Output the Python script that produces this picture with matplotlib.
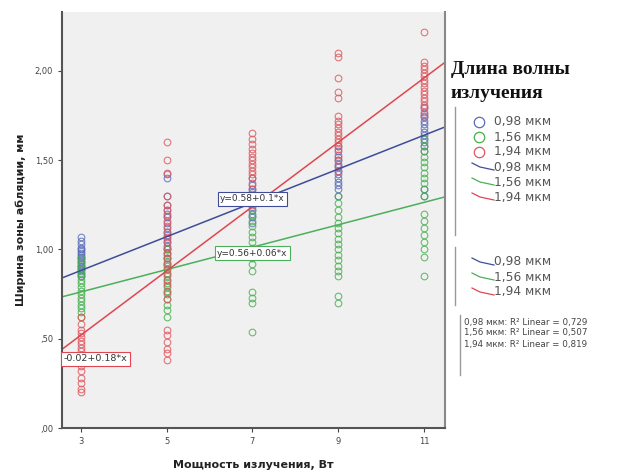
import matplotlib
matplotlib.use("Agg")
import matplotlib.pyplot as plt
from matplotlib.lines import Line2D
from matplotlib.ticker import FuncFormatter

# мощность излучения, Вт
powers = [3, 5, 7, 9, 11]

# ширина зоны абляции для каждой длины волны (по столбцам мощности)
blue_y = [
    [1.07, 1.05, 1.03, 1.01, 1.00, 0.99, 0.98, 0.97, 0.96, 0.95, 0.94, 0.93, 0.92, 0.91, 0.90, 0.89, 0.88, 0.86, 0.85],
    [1.42, 1.40, 1.30, 1.25, 1.22, 1.20, 1.18, 1.15, 1.12, 1.10, 1.08, 1.06, 1.04, 1.02, 1.00, 0.98, 0.95, 0.92],
    [1.40, 1.36, 1.34, 1.32, 1.30, 1.28, 1.26, 1.24, 1.22, 1.20, 1.18, 1.15],
    [1.58, 1.55, 1.52, 1.50, 1.48, 1.46, 1.44, 1.42, 1.40, 1.38, 1.36, 1.34, 1.30],
    [1.80, 1.76, 1.74, 1.72, 1.70, 1.68, 1.66, 1.64, 1.62, 1.60, 1.58, 1.55, 1.34, 1.30],
]
green_y = [
    [0.95, 0.93, 0.91, 0.89, 0.87, 0.85, 0.83, 0.81, 0.79, 0.77, 0.75, 0.73, 0.71, 0.69, 0.67, 0.65, 0.62],
    [1.00, 0.97, 0.95, 0.93, 0.91, 0.89, 0.87, 0.85, 0.83, 0.81, 0.79, 0.77, 0.75, 0.72, 0.69, 0.66, 0.62],
    [1.22, 1.19, 1.16, 1.13, 1.10, 1.07, 1.04, 1.01, 0.98, 0.95, 0.92, 0.88, 0.76, 0.73, 0.70, 0.54],
    [1.30, 1.26, 1.22, 1.18, 1.15, 1.12, 1.09, 1.06, 1.03, 1.00, 0.97, 0.94, 0.91, 0.88, 0.85, 0.74, 0.70],
    [1.62, 1.58, 1.55, 1.52, 1.49, 1.46, 1.43, 1.40, 1.37, 1.34, 1.30, 1.20, 1.16, 1.12, 1.08, 1.04, 1.00, 0.96, 0.85],
]
red_y = [
    [0.62, 0.58, 0.55, 0.53, 0.51, 0.49, 0.47, 0.45, 0.43, 0.41, 0.38, 0.35, 0.32, 0.28, 0.25, 0.22, 0.20],
    [1.60, 1.50, 1.43, 1.30, 1.25, 1.22, 1.19, 1.16, 1.13, 1.10, 1.07, 1.04, 1.01, 0.98, 0.95, 0.92, 0.89,
     0.86, 0.83, 0.80, 0.76, 0.72, 0.55, 0.52, 0.48, 0.44, 0.42, 0.38],
    [1.65, 1.62, 1.59, 1.56, 1.54, 1.52, 1.50, 1.48, 1.46, 1.44, 1.42, 1.40, 1.37, 1.34, 1.31, 1.28, 1.25],
    [2.10, 2.08, 1.96, 1.88, 1.85, 1.75, 1.72, 1.70, 1.68, 1.66, 1.64, 1.62, 1.60, 1.58, 1.56, 1.53, 1.50, 1.47, 1.44],
    [2.22, 2.05, 2.03, 2.01, 1.99, 1.97, 1.95, 1.93, 1.91, 1.89, 1.87, 1.85, 1.83, 1.81, 1.79, 1.77, 1.75],
]

# линии регрессии (как нарисованы на графике)
intercepts = [0.598, 0.574, -0.02]
slopes = [0.0947, 0.0627, 0.18]
eq_labels = ["y=0.58+0.1*x", "y=0.56+0.06*x", "-0.02+0.18*x"]
r2_values = ["0,729", "0,507", "0,819"]
wave_labels = ["0,98 мкм", "1,56 мкм", "1,94 мкм"]

marker_colors = ["#5a6ab8", "#45b04f", "#e0555c"]
line_colors = ["#3e4c9a", "#4caf5a", "#e04650"]

fig = plt.figure(figsize=(6.38, 4.72), dpi=100)
ax = fig.add_axes([0.0972, 0.0932, 0.6003, 0.8814])
ax.set_facecolor("#f0f0f0")

xlim = (2.56, 11.49)
ax.set_xlim(*xlim)
ax.set_ylim(0, 2.33)

for ys, mc in zip([blue_y, green_y, red_y], marker_colors):
    for p, col in zip(powers, ys):
        ax.plot([p] * len(col), col, "o", ms=4.8, mfc="none", mec=mc,
                mew=0.8, alpha=0.8, ls="none")

for a, b, lc in zip(intercepts, slopes, line_colors):
    ax.plot(xlim, [a + b * xlim[0], a + b * xlim[1]], color=lc, lw=1.1)

# подписи уравнений
ax.text(7.0, 1.283, eq_labels[0], ha="center", va="center", fontsize=6.5, color="#333",
        bbox=dict(boxstyle="square,pad=0.25", fc="white", ec=line_colors[0], lw=0.8))
ax.text(7.0, 0.98, eq_labels[1], ha="center", va="center", fontsize=6.5, color="#333",
        bbox=dict(boxstyle="square,pad=0.25", fc="white", ec=line_colors[1], lw=0.8))
ax.text(2.6, 0.387, eq_labels[2], ha="left", va="center", fontsize=6.8, color="#333",
        bbox=dict(boxstyle="square,pad=0.25", fc="white", ec=line_colors[2], lw=0.8))

ax.set_xticks(powers)
ax.set_yticks([0, 0.5, 1.0, 1.5, 2.0])
ax.yaxis.set_major_formatter(FuncFormatter(
    lambda v, pos: ("%.2f" % v).replace(".", ",").lstrip("0") if v < 1 else ("%.2f" % v).replace(".", ",")))
ax.tick_params(labelsize=6, colors="#444", length=3, width=0.8)

for s in ["left", "bottom"]:
    ax.spines[s].set_color("#555")
    ax.spines[s].set_linewidth(1.5)
ax.spines["right"].set_color("#888")
ax.spines["right"].set_linewidth(1.5)
ax.spines["top"].set_visible(False)

ax.set_xlabel("Мощность излучения, Вт", fontsize=8, fontweight="bold", color="#222", labelpad=10)
ax.set_ylabel("Ширина зоны абляции, мм", fontsize=8, fontweight="bold", color="#222", labelpad=6)

# легенда справа
W, H = 638.0, 472.0
def fx(px):
    return px / W
def fy(py):
    return 1 - py / H

for txt, yy in [("Длина волны", 70), ("излучения", 93)]:
    fig.text(fx(451), fy(yy), txt, family="Liberation Serif", fontweight="bold",
             fontsize=14, va="center", color="#111")

rows1 = [122, 137, 152]
rows2 = [167, 182, 197]
rows3 = [262, 277, 292]
for i in range(3):
    fig.lines.append(Line2D([fx(479)], [fy(rows1[i])], marker="o", ms=7.5, mfc="none",
                            mec=marker_colors[i], mew=0.9, transform=fig.transFigure))
    fig.text(fx(494), fy(rows1[i]), wave_labels[i], fontsize=8.8, color="#555", va="center")
    for r in (rows2, rows3):
        fig.lines.append(Line2D([fx(472), fx(480), fx(494)], [fy(r[i] - 4), fy(r[i]), fy(r[i] + 3)],
                                color=line_colors[i], lw=0.9, transform=fig.transFigure))
        fig.text(fx(494), fy(r[i]), wave_labels[i], fontsize=8.8, color="#555", va="center")

for x0, y0, y1 in [(455, 107, 235), (455, 247, 305), (460, 315, 375)]:
    fig.lines.append(Line2D([fx(x0), fx(x0)], [fy(y0), fy(y1)], color="#999", lw=1.0,
                            transform=fig.transFigure))

for i, yy in enumerate([322, 333, 344]):
    fig.text(fx(464), fy(yy), wave_labels[i] + ": R² Linear = " + r2_values[i],
             fontsize=6.3, color="#444", va="center")

fig.savefig("out.png", dpi=100)
